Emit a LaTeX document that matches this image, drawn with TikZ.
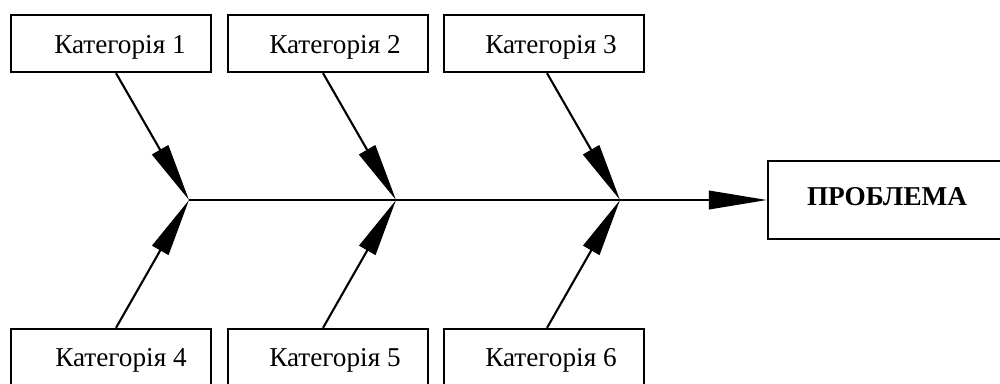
\documentclass[tikz,border=0pt]{standalone}
\usepackage{fontspec}
\setmainfont{Liberation Serif}
\usetikzlibrary{arrows.meta}
\tikzset{
  catbox/.style={draw, line width=1.3pt, minimum width=4cm, minimum height=1.14cm, inner sep=0pt},
  cattext/.style={inner sep=0pt, font=\fontsize{15.5}{18}\selectfont},
  bone/.style={line width=1.2pt, -{Triangle[length=1.16cm, width=0.37cm]}},
}
\begin{document}
\begin{tikzpicture}[x=0.02cm, y=-0.02cm]
\useasboundingbox (0,0) rectangle (1000,383);
\clip (0,0) rectangle (1000,383);
\fill[white] (0,0) rectangle (1000,383);

% category boxes (upper and lower rows; the lower row runs off the page)
\node[catbox] (b1) at (111,43.5) {};
\node[catbox] (b2) at (328,43.5) {};
\node[catbox] (b3) at (544,43.5) {};
\node[catbox] (b4) at (111,357.5) {};
\node[catbox] (b5) at (328,357.5) {};
\node[catbox] (b6) at (544,357.5) {};

\node[cattext] (t1) at (120,47) {Категорія 1};
\node[cattext] (t2) at (335,47) {Категорія 2};
\node[cattext] (t3) at (551,47) {Категорія 3};
\node[cattext] (t4) at (121,360) {Категорія 4};
\node[cattext] (t5) at (335,360) {Категорія 5};
\node[cattext] (t6) at (551,360) {Категорія 6};

% problem box (runs off the right edge)
\node[draw, line width=1.3pt, minimum width=4.84cm, minimum height=1.56cm, inner sep=0pt] (pb) at (889,200) {};
\node[inner sep=0pt, font=\fontsize{15.5}{18}\selectfont\bfseries] (pt) at (887,197) {ПРОБЛЕМА};

% junctions on the spine
\coordinate (j1) at (189,200);
\coordinate (j2) at (396,200);
\coordinate (j3) at (620,200);

% bone start points on the box edges
\coordinate (s1) at ([xshift=0.1cm]b1.south);
\coordinate (s2) at ([xshift=-0.1cm]b2.south);
\coordinate (s3) at ([xshift=0.06cm]b3.south);
\coordinate (s4) at ([xshift=0.1cm]b4.north);
\coordinate (s5) at ([xshift=-0.1cm]b5.north);
\coordinate (s6) at ([xshift=0.06cm]b6.north);

\draw[bone] (s1) -- (j1);
\draw[bone] (s2) -- (j2);
\draw[bone] (s3) -- (j3);
\draw[bone] (s4) -- (j1);
\draw[bone] (s5) -- (j2);
\draw[bone] (s6) -- (j3);

% spine
\draw[bone] (j1) -- (pb.west);
\end{tikzpicture}
\end{document}
